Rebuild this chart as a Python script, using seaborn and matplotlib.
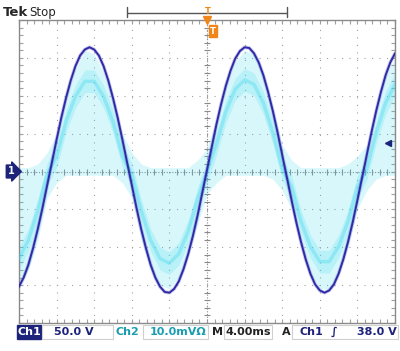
import numpy as np
import pandas as pd
import seaborn as sns
import matplotlib
matplotlib.use("Agg")
from matplotlib import pyplot as plt
from matplotlib.lines import Line2D
from matplotlib.patches import Rectangle
from matplotlib.transforms import blended_transform_factory
from matplotlib.ticker import MultipleLocator

CH1_SCALE = 50.0    # V/div
CH2_SCALE = 10.0    # mV/div
TIME_SCALE = 4.0    # ms/div
TRIG_LEVEL = 38.0   # V on ch1

# ch1 (V), one sample every 0.5 ms from -20 ms to +20 ms
ch1_v = [-152, -140, -123, -101, -76, -48, -18, 12, 42, 71,
         97, 120, 139, 153, 161, 164, 161, 153, 139, 120,
         97, 71, 42, 12, -18, -48, -76, -101, -123, -140,
         -152, -159, -160, -155, -145, -129, -109, -85, -58, -28,
         2, 32, 62, 89, 113, 133, 149, 159, 164, 163,
         156, 144, 127, 105, 80, 52, 22, -8, -38, -67,
         -93, -116, -135, -149, -157, -160, -157, -149, -135, -116,
         -93, -67, -38, -8, 22, 52, 80, 105, 127, 144, 156]

# ch2 (mV), one sample every 1 ms from -20 ms to +20 ms
ch2_mid = [-23.0, -18.1, -10.3, -0.7, 4.0, 13.2, 19.8, 23.8, 23.8, 19.8,
           13.2, 4.0, -0.7, -10.3, -18.1, -23.0, -24.2, -21.7, -15.8, -7.2,
           0.0, 7.2, 15.8, 21.7, 24.2, 23.0, 18.1, 10.3, 0.7, -4.0,
           -13.2, -19.8, -23.8, -23.8, -19.8, -13.2, -4.0, 0.7, 10.3, 18.1, 23.0]
# edges of the noisy ch2 band
ch2_hi = [1, 1, 2, 5, 10, 20, 27, 32, 31, 26,
          19, 10, 5, 2, 1, 1, 1, 1, 1, 3,
          6, 14, 23, 29, 32, 31, 25, 17, 7, 3,
          1, 1, 1, 1, 1, 2, 4, 7, 17, 25, 30]
ch2_lo = [-30, -26, -18, -7, -3, -1, -1, -1, -1, -1,
          -1, -3, -7, -18, -26, -30, -31, -28, -22, -14,
          -6, -3, -1, -1, -1, -1, -1, -2, -5, -10,
          -20, -27, -31, -31, -27, -20, -10, -5, -2, -1, -1]

t1 = np.arange(len(ch1_v)) * 0.5 - 20
t2 = np.arange(len(ch2_mid)) * 1.0 - 20

df1 = pd.DataFrame({"t": t1, "div": np.array(ch1_v) / CH1_SCALE})
df2 = pd.DataFrame({"t": t2,
                    "mid": np.array(ch2_mid) / CH2_SCALE,
                    "hi": np.array(ch2_hi) / CH2_SCALE,
                    "lo": np.array(ch2_lo) / CH2_SCALE})

sns.set_style("white")
plt.rcParams['font.family'] = ['DejaVu Sans']

W, H = 400, 351
BLUE = '#2f2aa8'
NAVY = '#1d237a'
CYAN = '#3fd9ef'
TEAL = '#1a9db0'
ORANGE = '#f0861a'
GRID = '#a0a0a0'


def fx(x):
    return x / W


def fy(y):
    return 1 - y / H


fig = plt.figure(figsize=(W / 100, H / 100), dpi=100)
ax = fig.add_axes([19 / W, 1 - 323 / H, 376 / W, 303 / H])

ax.set_xlim(-5 * TIME_SCALE, 5 * TIME_SCALE)
ax.set_ylim(-4, 4)
ax.xaxis.set_major_locator(MultipleLocator(TIME_SCALE))
ax.xaxis.set_minor_locator(MultipleLocator(TIME_SCALE / 5))
ax.yaxis.set_major_locator(MultipleLocator(1))
ax.yaxis.set_minor_locator(MultipleLocator(0.2))
ax.tick_params(which='both', direction='in', top=True, right=True, bottom=True, left=True,
               labelbottom=False, labelleft=False, color=GRID, length=3, width=0.8)
ax.set_axisbelow(True)
ax.grid(True, which='major', color=GRID, ls=(0, (1, 5.75)), lw=0.8)
for s in ax.spines.values():
    s.set_color('#8a8a8a')
    s.set_linewidth(1)

# centre lines with minor ticks
ax.axhline(0, color='#8a8a8a', lw=0.8, ls=(0, (1, 1.5)), zorder=1)
ax.axvline(0, color='#8a8a8a', lw=0.8, ls=(0, (1, 1.5)), zorder=1)
xm = ax.xaxis.get_minorticklocs()
ax.plot(xm, np.zeros_like(xm), ls='none', marker='|', ms=5, mew=0.8, color='#8a8a8a', zorder=1)
ym = ax.yaxis.get_minorticklocs()
ax.plot(np.zeros_like(ym), ym, ls='none', marker='_', ms=5, mew=0.8, color='#8a8a8a', zorder=1)

# ch2 trace: faint noisy band, then the denser centre
ax.fill_between(df2.t, df2.lo, df2.hi, color=CYAN, alpha=0.2, lw=0, zorder=2)
ax.fill_between(df2.t, df2.mid - 0.3, df2.mid + 0.3, color=CYAN, alpha=0.2, lw=0, zorder=2)
sns.lineplot(data=df2, x="t", y="mid", ax=ax, color=CYAN, lw=2.5, alpha=0.35, zorder=3)

# ch1 trace
sns.lineplot(data=df1, x="t", y="div", ax=ax, color=BLUE, lw=2.6, alpha=0.25, zorder=4)
sns.lineplot(data=df1, x="t", y="div", ax=ax, color=BLUE, lw=1.4, zorder=5)
ax.set_xlabel('')
ax.set_ylabel('')

# markers
trans = blended_transform_factory(ax.transAxes, ax.transData)
ax.text(-0.012, 0, '1', transform=trans, ha='right', va='center', color='white',
        fontsize=7, fontweight='bold',
        bbox=dict(boxstyle='rarrow,pad=0.15', fc=NAVY, ec=NAVY))
ax.plot([0.982], [TRIG_LEVEL / CH1_SCALE], marker='<', ms=5, color=NAVY,
        transform=trans, clip_on=False, zorder=6)
ax.plot([0], [4], marker='v', ms=6, color=ORANGE, clip_on=False, zorder=6)
ax.annotate('T', xy=(0, 4), xytext=(4.5, -8), textcoords='offset points',
            color='white', fontsize=6, fontweight='bold', ha='center', va='center',
            bbox=dict(boxstyle='square,pad=0.15', fc=ORANGE, ec=ORANGE))

# header
fig.text(fx(3), fy(12.5), 'Tek', fontsize=9.5, fontweight='bold', va='center')
fig.text(fx(29), fy(12.5), 'Stop', fontsize=8.5, va='center')
fig.add_artist(Line2D([fx(127), fx(287)], [fy(12.5), fy(12.5)], color='#555555', lw=1))
for xe in (127, 287):
    fig.add_artist(Line2D([fx(xe), fx(xe)], [fy(7), fy(17)], color='#555555', lw=1))
fig.text(fx(208), fy(11), 'T', color=ORANGE, fontsize=6, fontweight='bold', ha='center', va='center')

# status bar
fig.add_artist(Rectangle((fx(17), fy(339)), (41 - 17) / W, 14 / H, fc=NAVY, ec=NAVY,
                         transform=fig.transFigure))
for x0, x1 in [(42, 113), (143, 208), (224, 272), (292, 398)]:
    fig.add_artist(Rectangle((fx(x0), fy(339)), (x1 - x0) / W, 14 / H, fc='none',
                             ec='#d0d0d0', lw=0.8, transform=fig.transFigure))
status = [(18, 'Ch1', 'white'), (54, '50.0 V', NAVY), (116, 'Ch2', TEAL),
          (150, '10.0mV\u03a9', TEAL), (212, 'M', '#222222'), (226, '4.00ms', '#222222'),
          (282, 'A', '#222222'), (300, 'Ch1', NAVY), (331, '\u222b', NAVY),
          (357, '38.0 V', NAVY)]
for x, s, c in status:
    fig.text(fx(x), fy(332), s, color=c, fontsize=8, fontweight='bold', va='center')

fig.savefig("out.png", dpi=100)
